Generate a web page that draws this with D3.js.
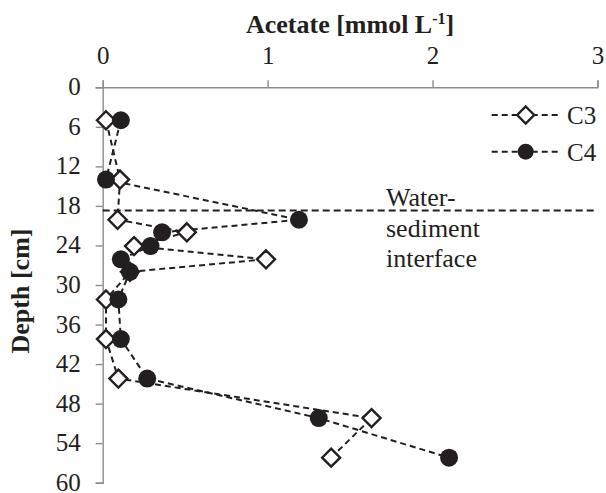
<!DOCTYPE html>
<html>
<head>
<meta charset="utf-8">
<script src="https://cdn.jsdelivr.net/npm/d3@7"></script>
<style>
  html, body { margin: 0; padding: 0; background: #fff; }
  svg { display: block; }
  text { font-family: "Liberation Serif", "Times New Roman", serif; fill: #231f20; }
</style>
</head>
<body>
<svg id="chart" width="606" height="493"></svg>
<script>
// ---- data ----
const depths = [5.0, 14.0, 20.1, 22.0, 24.1, 26.1, 28.0, 32.2, 38.2, 44.2, 50.2, 56.2];
const c3Values = [0.02, 0.105, 0.09, 0.51, 0.19, 0.99, 0.165, 0.02, 0.02, 0.095, 1.63, 1.385];
const c4Values = [0.11, 0.02, 1.19, 0.36, 0.29, 0.11, 0.165, 0.095, 0.11, 0.27, 1.31, 2.10];
const seriesNames = ["C3", "C4"];
const xTicks = [0, 1, 2, 3];
const yTicks = [0, 6, 12, 18, 24, 30, 36, 42, 48, 54, 60];
const interfaceDepth = 18.7;
const interfaceLabel = ["Water-", "sediment", "interface"];
const xTitle = "Acetate [mmol L";
const yTitle = "Depth [cm]";

// ---- layout ----
const svg = d3.select("#chart");
const pLeft = 102.7, pRight = 597.5, pTop = 87.3, pBottom = 482.7;
const x = d3.scaleLinear().domain([0, 3]).range([pLeft, pRight]);
const y = d3.scaleLinear().domain([0, 60]).range([pTop, pBottom]);
const axisColor = "#8c8c8c";
const ink = "#231f20";
const fontSize = 25;

// axes
const gx = svg.append("g").attr("transform", `translate(0,${pTop})`)
  .call(d3.axisTop(x).tickValues(xTicks).tickFormat(d3.format("d")).tickSize(7).tickPadding(16));
const gy = svg.append("g").attr("transform", `translate(${pLeft},0)`)
  .call(d3.axisLeft(y).tickValues(yTicks).tickFormat(d3.format("d")).tickSize(7).tickPadding(15));
[gx, gy].forEach(g => {
  g.select(".domain").attr("stroke", axisColor).attr("stroke-width", 1.4);
  g.selectAll(".tick line").attr("stroke", axisColor).attr("stroke-width", 1.4);
  g.selectAll(".tick text").attr("fill", ink).style("font-size", fontSize + "px")
    .style("font-family", '"Liberation Serif", "Times New Roman", serif');
});
gy.selectAll(".tick text").attr("dy", "0.3em");

// axis titles
const xt = svg.append("text").attr("x", (pLeft + pRight) / 2).attr("y", 33)
  .attr("text-anchor", "middle").style("font-size", "26px").style("font-weight", "bold");
xt.append("tspan").text(xTitle);
xt.append("tspan").attr("dy", -9).style("font-size", "16px").text("-1");
xt.append("tspan").attr("dy", 9).text("]");

svg.append("text").attr("transform", `translate(29,${(pTop + pBottom) / 2 + 6}) rotate(-90)`)
  .attr("text-anchor", "middle").style("font-size", "26px").style("font-weight", "bold")
  .text(yTitle);

// interface line
svg.append("line").attr("x1", pLeft).attr("x2", pRight)
  .attr("y1", y(interfaceDepth)).attr("y2", y(interfaceDepth))
  .attr("stroke", ink).attr("stroke-width", 2).attr("stroke-dasharray", "7,4");
const it = svg.append("text").attr("x", 386).attr("y", 206).style("font-size", "26px");
interfaceLabel.forEach((s, i) => it.append("tspan").attr("x", 386).attr("dy", i === 0 ? 0 : 30.5).text(s));

// series
const series = [
  { name: seriesNames[0], values: c3Values, shape: "diamond" },
  { name: seriesNames[1], values: c4Values, shape: "circle" }
];
const line = d3.line().x(d => x(d[0])).y(d => y(d[1]));

function drawMarker(g, shape, cx, cy) {
  if (shape === "diamond") {
    const r = 9;
    g.append("path").attr("d", `M${cx},${cy - r}L${cx + r},${cy}L${cx},${cy + r}L${cx - r},${cy}Z`)
      .attr("fill", "#fff").attr("stroke", ink).attr("stroke-width", 2.4);
  } else {
    g.append("circle").attr("cx", cx).attr("cy", cy).attr("r", 9).attr("fill", ink);
  }
}

series.forEach(s => {
  const pts = s.values.map((v, i) => [v, depths[i]]);
  svg.append("path").datum(pts).attr("d", line).attr("fill", "none")
    .attr("stroke", ink).attr("stroke-width", 2).attr("stroke-dasharray", "6,4");
});
series.forEach(s => {
  const g = svg.append("g");
  s.values.forEach((v, i) => drawMarker(g, s.shape, x(v), y(depths[i])));
});

// legend
series.forEach((s, i) => {
  const ly = 115 + i * 36.7;
  svg.append("line").attr("x1", 491.7).attr("x2", 559).attr("y1", ly).attr("y2", ly)
    .attr("stroke", ink).attr("stroke-width", 2).attr("stroke-dasharray", "6,4");
  const g = svg.append("g");
  if (s.shape === "diamond") {
    const r = 8.5, cx = 525.7;
    g.append("path").attr("d", `M${cx},${ly - r}L${cx + r},${ly}L${cx},${ly + r}L${cx - r},${ly}Z`)
      .attr("fill", "#fff").attr("stroke", ink).attr("stroke-width", 2.4);
  } else {
    g.append("circle").attr("cx", 525.7).attr("cy", ly).attr("r", 8).attr("fill", ink);
  }
  svg.append("text").attr("x", 567).attr("y", ly + 9).style("font-size", fontSize + "px").text(s.name);
});
</script>
</body>
</html>
